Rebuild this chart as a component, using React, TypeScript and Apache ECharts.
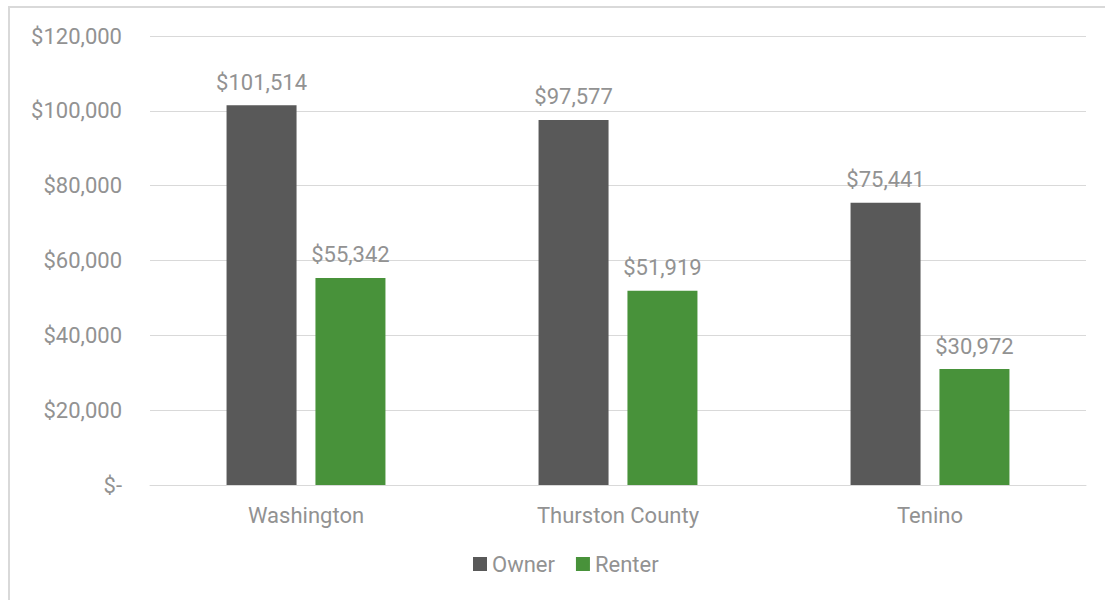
import React, { useEffect, useRef } from "react";
import * as echarts from "echarts";

const categories = ["Washington", "Thurston County", "Tenino"];
const ownerValues = [101514, 97577, 75441];
const renterValues = [55342, 51919, 30972];
const seriesNames = ["Owner", "Renter"];

const fmt = (v: number) => (v === 0 ? "$-" : "$" + v.toLocaleString("en-US"));

export default function App() {
  const ref = useRef<HTMLDivElement>(null);
  useEffect(() => {
    if (!ref.current) return;
    const chart = echarts.init(ref.current, undefined, { renderer: "svg" });
    const font = "Roboto, 'Liberation Sans', sans-serif";
    const labelColor = "#929292";
    const fs = 22;
    const fw = 400;
    chart.setOption({
      animation: false,
      backgroundColor: "#ffffff",
      textStyle: { fontFamily: font },
      grid: { left: 150, right: 19, top: 36, bottom: 115, containLabel: false },
      legend: {
        data: seriesNames,
        bottom: 20,
        left: 468,
        itemWidth: 14,
        itemHeight: 14,
        itemGap: 21,
        icon: "rect",
        textStyle: { color: labelColor, fontSize: fs, fontWeight: fw, fontFamily: font },
      },
      xAxis: {
        type: "category",
        data: categories,
        axisLine: { show: true, lineStyle: { color: "#d9d9d9", width: 1 } },
        axisTick: { show: false },
        axisLabel: { color: labelColor, fontSize: fs, fontWeight: fw, margin: 19, fontFamily: font },
      },
      yAxis: {
        type: "value",
        min: 0,
        max: 120000,
        interval: 20000,
        axisLine: { show: false },
        axisTick: { show: false },
        splitLine: { lineStyle: { color: "#d9d9d9", width: 1 } },
        axisLabel: {
          color: labelColor,
          fontSize: fs,
          fontWeight: fw,
          margin: 28,
          fontFamily: font,
          formatter: (v: number) => fmt(v),
        },
      },
      series: [
        {
          name: seriesNames[0],
          type: "bar",
          data: ownerValues,
          barWidth: 70,
          barGap: "27%",
          itemStyle: { color: "#595959" },
          label: {
            show: true,
            position: "top",
            distance: 12,
            color: labelColor,
            fontSize: fs,
            fontWeight: fw,
            fontFamily: font,
            formatter: (p: any) => fmt(p.value),
          },
        },
        {
          name: seriesNames[1],
          type: "bar",
          data: renterValues,
          barWidth: 70,
          itemStyle: { color: "#48923a" },
          label: {
            show: true,
            position: "top",
            distance: 12,
            color: labelColor,
            fontSize: fs,
            fontWeight: fw,
            fontFamily: font,
            formatter: (p: any) => fmt(p.value),
          },
        },
      ],
    });
    return () => chart.dispose();
  }, []);
  return (
    <div style={{ position: "fixed", left: 0, top: 0, width: 1105, height: 600, overflow: "hidden", background: "#fff" }}>
      <div ref={ref} style={{ width: 1105, height: 600 }} />
      <div
        style={{
          position: "absolute",
          left: 8,
          top: 6,
          width: 1097,
          height: 594,
          boxSizing: "border-box",
          borderLeft: "2px solid #d9d9d9",
          borderTop: "2px solid #d9d9d9",
          pointerEvents: "none",
        }}
      />
    </div>
  );
}
